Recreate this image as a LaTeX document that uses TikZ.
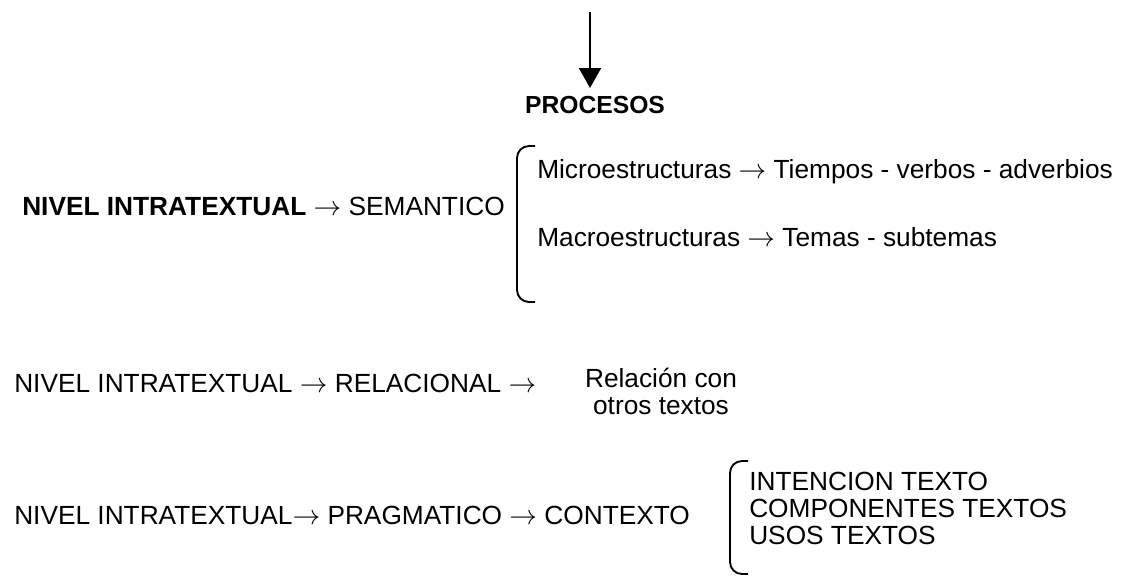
\documentclass[tikz,border=0pt]{standalone}
\usepackage{fontspec}
\setmainfont{Liberation Sans}
\usetikzlibrary{arrows.meta,positioning}

\tikzset{
  txt/.style={anchor=west, inner sep=0pt, font=\fontsize{19.7}{20}\selectfont},
  bracket/.style={line width=1.4pt, rounded corners=9pt},
}

\begin{document}
\begin{tikzpicture}[x=0.75pt, y=-0.75pt]
  \useasboundingbox (0,0) rectangle (1121,575);

  % arrow down to procesos
  \coordinate (top) at (590,12);
  \node[txt, anchor=center, font=\fontsize{18.5}{20}\selectfont\bfseries] (procesos) at (595,105) {PROCESOS};
  \draw[line width=1.5pt, -{Triangle[width=16.5pt,length=15pt]}] (top) -- ++(0,76) coordinate (tip);

  % semantico
  \node[txt, anchor=east] (semantico) at (505,206) {\textbf{NIVEL INTRATEXTUAL} $\rightarrow$ SEMANTICO};
  \draw[bracket] (535,146) -- (517,146) -- (517,302) -- (535,302);
  \node[txt] (micro) at (537,172) {Microestructuras $\rightarrow$ Tiempos - verbos - adverbios};
  \node[txt] (macro) at (537,237) {Macroestructuras $\rightarrow$ Temas - subtemas};

  % relacional
  \node[txt] (relacional) at (14,383) {NIVEL INTRATEXTUAL $\rightarrow$ RELACIONAL $\rightarrow$};
  \node[txt, anchor=center, align=center, font=\fontsize{19.7}{20.2}\selectfont] (relacion) at (661,391) {Relación con\\otros textos};

  % pragmatico
  \node[txt] (pragmatico) at (14,515) {NIVEL INTRATEXTUAL$\rightarrow$ PRAGMATICO $\rightarrow$ CONTEXTO};
  \draw[bracket] (748,461) -- (730,461) -- (730,574) -- (748,574);
  \node[txt, anchor=north west, align=left, font=\fontsize{19.7}{20.2}\selectfont] (usos) at (749,472) {INTENCION TEXTO\\COMPONENTES TEXTOS\\USOS TEXTOS};
\end{tikzpicture}
\end{document}
